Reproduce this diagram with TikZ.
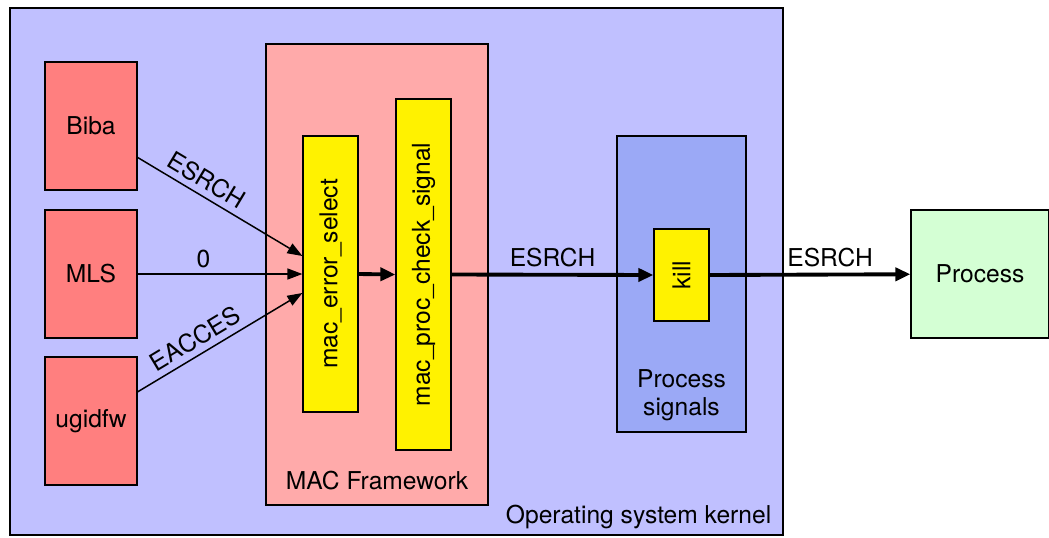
\documentclass[tikz,border=0pt]{standalone}
\usepackage{fontspec}
\setmainfont{TeX Gyre Heros}
\usetikzlibrary{arrows.meta, positioning}

\definecolor{kernelblue}{HTML}{C0C0FF}
\definecolor{macpink}{HTML}{FFAAAA}
\definecolor{polred}{HTML}{FF7F7F}
\definecolor{sigblue}{HTML}{9BA9F6}
\definecolor{procgreen}{HTML}{D4FFD4}

\begin{document}
\begin{tikzpicture}[
    x=0.02cm, y=-0.02cm,
    font=\fontsize{14}{16}\selectfont,
    box/.style={
        draw, rectangle, line width=0.7pt, inner sep=0pt
    },
    policy/.style={
        box, fill=polred, minimum width=1.84cm, minimum height=2.56cm
    },
    func/.style={
        box, fill=yellow, rotate=90, minimum height=1.1cm
    },
    thin/.style={
        line width=0.85pt, -{Triangle[length=0.3cm, width=0.22cm]}
    },
    thick/.style={
        line width=2.2pt, -{Triangle[length=0.3cm, width=0.26cm]}
    },
]
    \useasboundingbox (0,0) rectangle (1049,538);

    \node[box, fill=kernelblue, minimum width=15.46cm, minimum height=10.54cm](kernel) at (396.5,271.5){};
    \node[anchor=south east, inner sep=0pt] at ([xshift=-0.24cm, yshift=0.12cm]kernel.south east) {Operating system kernel};

    \node[box, fill=macpink, minimum width=4.44cm, minimum height=9.22cm](mac) at (377,274.5){};
    \node[anchor=south, inner sep=0pt] at ([yshift=0.3cm]mac.south) {MAC Framework};

    \node[policy](biba) at (91,126){Biba};
    \node[policy](mls) at (91,274){MLS};
    \node[policy](ugidfw) at (91,421){ugidfw};

    \node[func, minimum width=5.52cm](errsel) at (330.5,274){mac\_error\_select};
    \node[func, minimum width=7.02cm](chksig) at (423.5,274.5){mac\_proc\_check\_signal};

    \node[box, fill=sigblue, minimum width=2.58cm, minimum height=5.92cm](sig) at (681.5,284){};
    \node[anchor=south, align=center, inner sep=0pt] at ([yshift=0.22cm]sig.south) {Process\\signals};
    \node[func, minimum width=1.84cm](kill) at (681.5,275){kill};

    \node[box, fill=procgreen, minimum width=2.76cm, minimum height=2.56cm](proc) at (980,274){Process};

    \draw[thin] (biba.-34) to node[sloped, above, pos=0.37]{ESRCH} ([yshift=0.36cm]errsel.north);
    \draw[thin] (mls) to node[above, pos=0.4]{0} (errsel.north);
    \draw[thin] (ugidfw.32) to node[sloped, above, pos=0.4]{EACCES} ([yshift=-0.38cm]errsel.north);

    \draw[thick] (errsel.south) to (chksig.north);
    \draw[thick] (chksig.south) to node[above, pos=0.5]{ESRCH} (kill.north);
    \draw[thick] (kill.south) to node[above, pos=0.6]{ESRCH} (proc);

\end{tikzpicture}
\end{document}
